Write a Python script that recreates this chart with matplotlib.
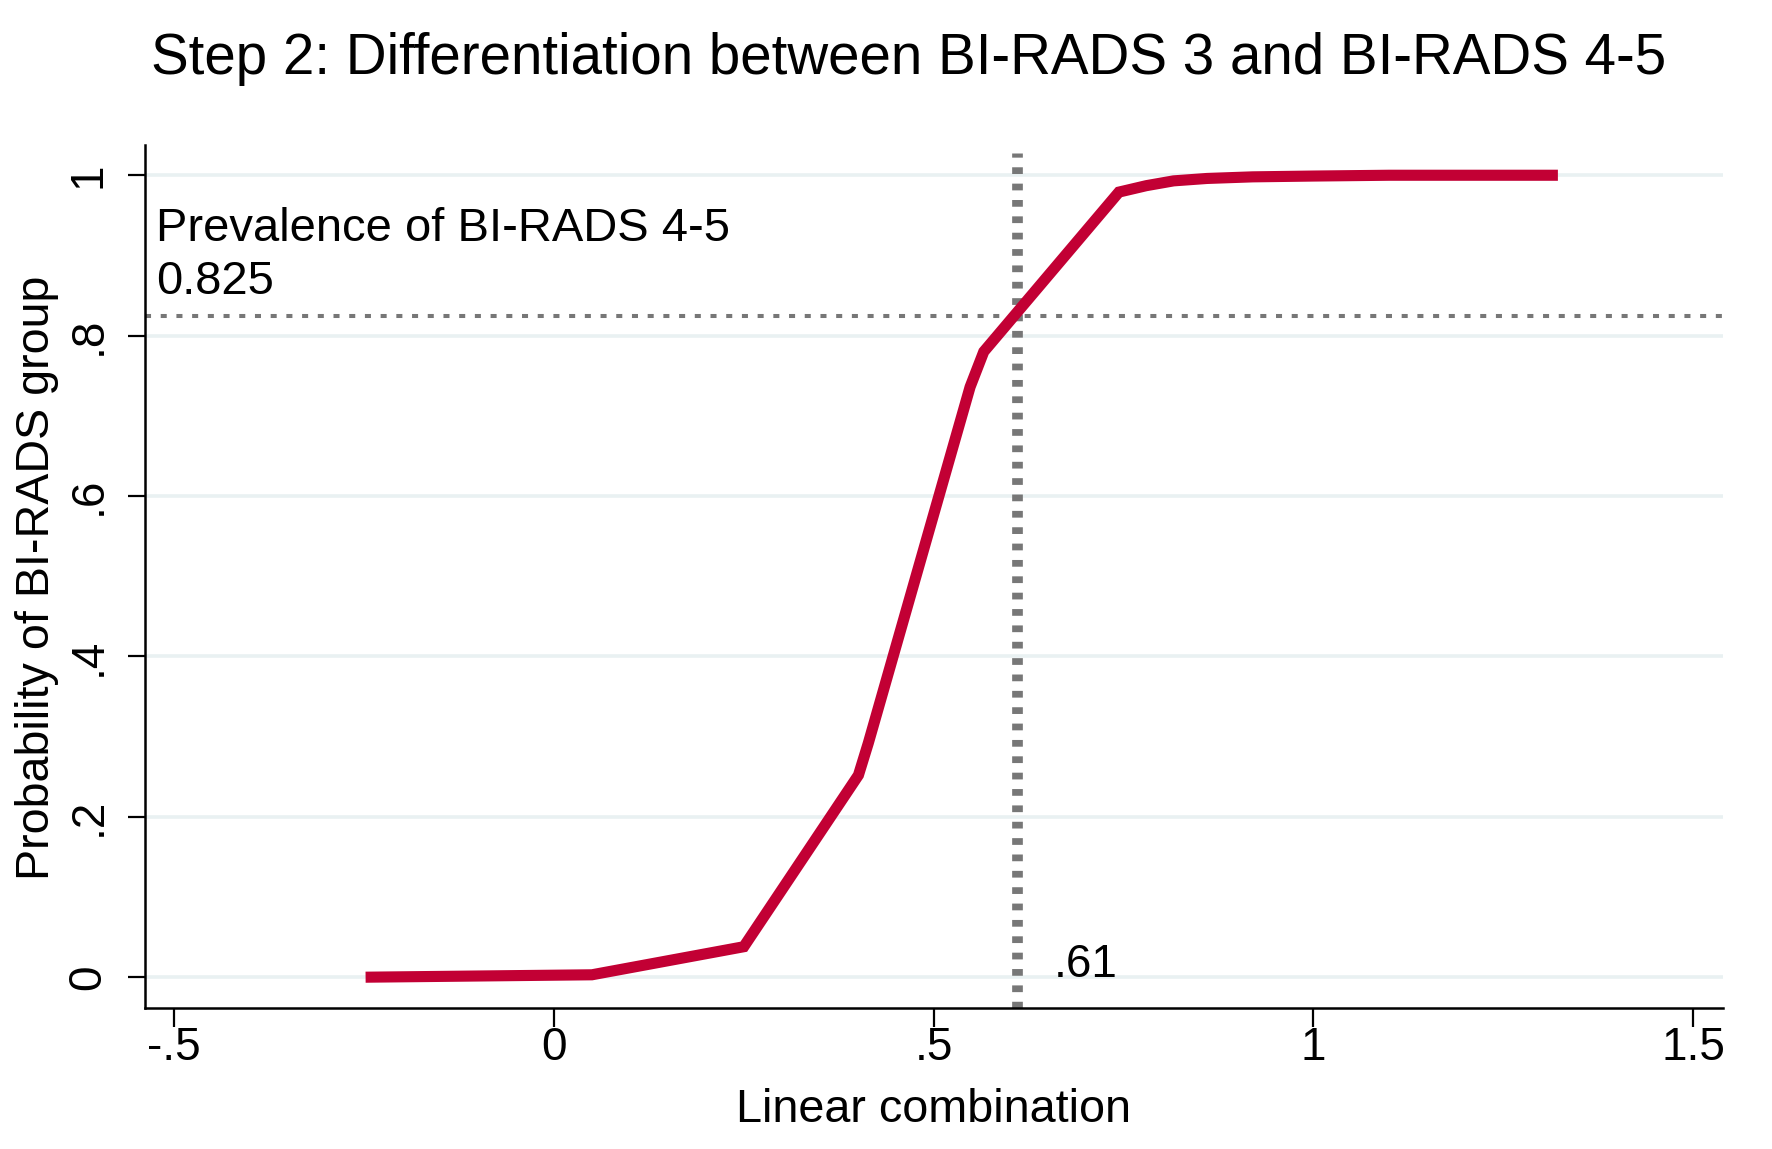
import matplotlib
matplotlib.use("Agg")
import matplotlib.pyplot as plt

plt.rcParams['font.family'] = ['Liberation Sans', 'DejaVu Sans']

# ---- data ----
lincomb = [-0.248, 0.05, 0.25, 0.401, 0.414, 0.548, 0.566, 0.744, 0.78, 0.816, 0.86, 0.92, 1.0, 1.1, 1.322]
prob    = [0.0, 0.003, 0.038, 0.252, 0.292, 0.736, 0.780, 0.979, 0.987, 0.993, 0.996, 0.998, 0.999, 1.0, 1.0]
cutoff = 0.61
cutoff_label = ".61"
prevalence = 0.825
prev_label = "Prevalence of BI-RADS 4-5"
xticks = [-0.5, 0, 0.5, 1, 1.5]
xticklabels = ["-.5", "0", ".5", "1", "1.5"]
yticks = [0, 0.2, 0.4, 0.6, 0.8, 1]
yticklabels = ["0", ".2", ".4", ".6", ".8", "1"]
title = "Step 2: Differentiation between BI-RADS 3 and BI-RADS 4-5"
xlabel = "Linear combination"
ylabel = "Probability of BI-RADS group"

W, H, DPI = 1772, 1149, 100
fig = plt.figure(figsize=(W / DPI, H / DPI), dpi=DPI, facecolor='white')
ax = fig.add_axes([0.0816, 0.123, 0.891, 0.751])
ax.set_facecolor('white')

grid_color = '#E9F1F2'
red = '#C20034'
gray = '#777777'

for yv in yticks:
    ax.axhline(yv, color=grid_color, lw=2.6, zorder=1)

ax.axhline(prevalence, color=gray, lw=2.9, linestyle=(0, (1.5, 2.4)),
           dash_capstyle='butt', zorder=2)
ax.axvline(cutoff, ymin=0, ymax=0.99, color=gray, lw=7.7, linestyle=(0, (0.63, 0.9)),
           dash_capstyle='butt', zorder=2)

ax.plot(lincomb, prob, color=red, lw=8, solid_capstyle='butt',
        solid_joinstyle='miter', zorder=3)

ax.text(0.658, 0.0, cutoff_label, fontsize=33, ha='left', va='baseline', zorder=4)
ax.text(-0.524, 0.918, prev_label, fontsize=33.9, ha='left', va='baseline', zorder=4)
ax.text(-0.524, 0.852, f"{prevalence:.3f}", fontsize=33.9, ha='left', va='baseline', zorder=4)

ax.set_xlim(-0.539, 1.540)
ax.set_ylim(-0.038, 1.038)
ax.set_xticks(xticks)
ax.set_xticklabels(xticklabels, fontsize=33)
ax.set_yticks(yticks)
ax.set_yticklabels(yticklabels, fontsize=33, rotation=90, va='center', ha='right')

for s in ['top', 'right']:
    ax.spines[s].set_visible(False)
for s in ['left', 'bottom']:
    ax.spines[s].set_linewidth(1.8)
    ax.spines[s].set_color('black')

ax.tick_params(axis='x', length=13.5, width=1.6, pad=0)
ax.tick_params(axis='y', length=12.5, width=1.6, pad=12)

ax.set_xlabel(xlabel, fontsize=33.7, va='baseline')
ax.xaxis.set_label_coords(0.4994, -0.132)
ax.set_ylabel(ylabel, fontsize=33.6, va='center')
ax.yaxis.set_label_coords(-0.068, 0.498)

fig.text(0.513, 0.936, title, fontsize=40.7, ha='center', va='baseline')

fig.savefig('out.png', dpi=DPI, facecolor='white')
